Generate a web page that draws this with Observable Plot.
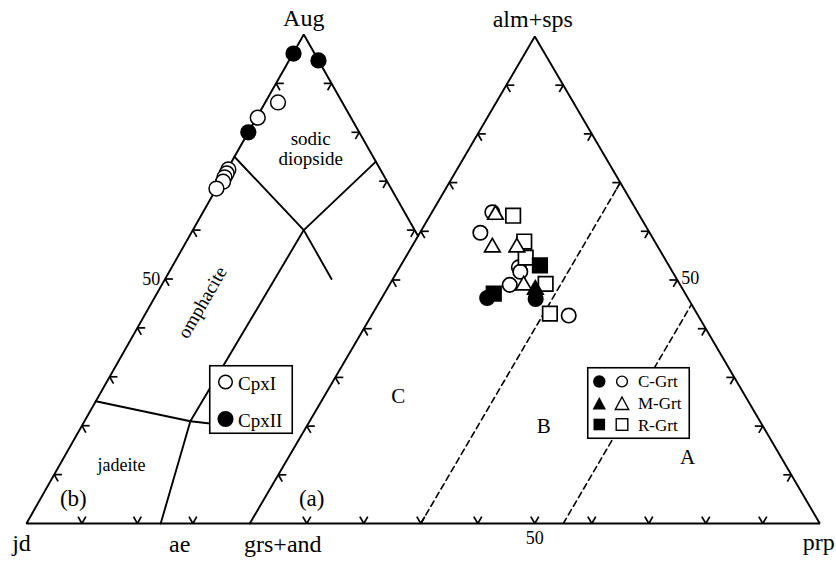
<!DOCTYPE html>
<html><head><meta charset="utf-8">
<script src="https://cdn.jsdelivr.net/npm/d3@7"></script>
<script src="https://cdn.jsdelivr.net/npm/@observablehq/plot@0.6"></script>
<style>
body{margin:0;background:#fff;}
#wrap{position:relative;width:836px;height:562px;font-family:"Liberation Serif",serif;}
#wrap svg.leg{position:absolute;overflow:visible;}
</style></head><body><div id="wrap"></div>
<script>
// ---------------- data ----------------
// clinopyroxene compositions (mol%): Aug, jd, ae
const cpxGroup = ["CpxII","CpxII","CpxII","CpxI","CpxI","CpxI","CpxI","CpxI","CpxI","CpxI"];
const cpxAug   = [96.1, 94.7, 80.0, 86.1, 83.0, 72.4, 71.6, 70.8, 69.9, 68.5];
const cpxJd    = [ 3.8,  0.0, 20.0, 11.6, 16.8, 27.4, 28.1, 28.9, 29.6, 31.5];
const cpxAe    = [ 0.1,  5.3,  0.0,  2.3,  0.2,  0.2,  0.3,  0.3,  0.5,  0.0];

// garnet compositions (mol%): alm+sps, prp, grs+and
const grtGroup  = ["C-Grt","M-Grt","R-Grt","C-Grt","M-Grt","M-Grt","R-Grt","R-Grt","R-Grt","C-Grt",
                   "C-Grt","R-Grt","C-Grt","M-Grt","M-Grt","C-Grt","R-Grt","C-Grt","R-Grt","C-Grt"];
const grtFilled = [0,0,0,0,0,0,0,0,1,0, 0,0,0,0,1,1,1,1,0,0];
const grtAlmSps = [63.9,63.4,63.2,59.7,56.7,56.7,57.9,54.6,53.0,52.6,51.7,49.2,49.0,48.9,48.0,46.1,47.2,46.3,43.1,42.7];
const grtPrp    = [10.6,11.4,14.6,10.6,14.2,18.5,19.2,21.1,24.4,20.9,21.6,27.3,21.1,23.6,26.1,27.1,19.2,18.5,31.1,34.6];
const grtGrsAnd = [25.5,25.2,22.2,29.7,29.1,24.8,22.9,24.3,22.6,26.5,26.7,23.5,29.9,27.5,25.9,26.8,33.6,35.2,25.8,22.7];

// cpx field boundaries (Aug, jd, ae)
const cpxSodicDiopside = [[75,25,0],[60,20,20],[74,0,26]];
const cpxInnerBranch   = [[60,20,20],[50,20,30]];
const cpxOmphAeLine    = [[60,20,20],[20.9,60,19.1],[0,75.8,24.2]];
const cpxJadeiteLine   = [[25,75,0],[20.9,60,19.1],[20.4,56.3,23.3]];
// garnet group boundaries (prp %), Coleman et al.
const grtPrpBounds = [30, 55];
const tickPct = [10,20,30,40,50,60,70,80,90];

// ---------------- geometry ----------------
const GRT = {alm:[50,85.44], prp:[100,0], grs:[0,0]};
const CPX = {aug:[9.47,85.79], jd:[-39.18,0], ae:[58.12,0]};
function bary(P, a, b, c) {
  const s = a + b + c;
  return [(a*P[0][0] + b*P[1][0] + c*P[2][0]) / s, (a*P[0][1] + b*P[1][1] + c*P[2][1]) / s];
}
const grtV = [GRT.alm, GRT.prp, GRT.grs];
const cpxV = [CPX.aug, CPX.jd, CPX.ae];
const grtXY = (c) => bary(grtV, c[0], c[1], c[2]);
const cpxXY = (c) => bary(cpxV, c[0], c[1], c[2]);

function intersect(p1, p2, p3, p4) {
  const d = (p2[0]-p1[0])*(p4[1]-p3[1]) - (p2[1]-p1[1])*(p4[0]-p3[0]);
  const t = ((p3[0]-p1[0])*(p4[1]-p3[1]) - (p3[1]-p1[1])*(p4[0]-p3[0])) / d;
  return [p1[0] + t*(p2[0]-p1[0]), p1[1] + t*(p2[1]-p1[1])];
}

const lines = [];
function addLine(id, pts) { pts.forEach((p, i) => lines.push({id, i, x: p[0], y: p[1]})); }
addLine("grt", [GRT.grs, GRT.prp, GRT.alm, GRT.grs]);
const cpxCut = intersect(CPX.aug, CPX.ae, GRT.grs, GRT.alm);
addLine("cpx", [cpxCut, CPX.aug, CPX.jd, GRT.grs]);
addLine("sd", cpxSodicDiopside.map(cpxXY));
addLine("br", cpxInnerBranch.map(cpxXY));
addLine("oa", cpxOmphAeLine.map(cpxXY));
addLine("jl", cpxJadeiteLine.map(cpxXY));

const dashed = [];
grtPrpBounds.forEach(p => {
  [grtXY([0, p, 100 - p]), grtXY([100 - p, p, 0])].forEach((q, i) => dashed.push({id: p, i, x: q[0], y: q[1]}));
});

// ticks: two inward arms parallel to the grid directions
const EPS = 1.4;
const ticks = [];
function edgeTicks(toXY, zi, vi, values) {
  const oi = 3 - zi - vi;
  values.forEach(v => {
    const c = [0,0,0]; c[vi] = v; c[oi] = 100 - v;
    const p = toXY(c);
    const a1 = c.slice(); a1[zi] = EPS; a1[vi] -= EPS;
    const a2 = c.slice(); a2[zi] = EPS; a2[oi] -= EPS;
    [a1, a2].forEach(a => { const q = toXY(a); ticks.push({x1: p[0], y1: p[1], x2: q[0], y2: q[1]}); });
  });
}
edgeTicks(grtXY, 0, 1, tickPct);            // bottom edge (prp)
edgeTicks(grtXY, 1, 0, tickPct);            // left edge (alm+sps)
edgeTicks(grtXY, 2, 0, tickPct);            // right edge (alm+sps)
edgeTicks(cpxXY, 2, 0, tickPct);            // cpx left edge (Aug)
edgeTicks(cpxXY, 0, 2, [10,20,30]);         // cpx bottom edge (ae)
edgeTicks(cpxXY, 1, 0, [60,70,80,90]);      // cpx right edge (Aug)

const cpxPts = cpxGroup.map((g, i) => { const p = cpxXY([cpxAug[i], cpxJd[i], cpxAe[i]]); return {g, x: p[0], y: p[1]}; });
const grtPts = grtGroup.map((g, i) => { const p = grtXY([grtAlmSps[i], grtPrp[i], grtGrsAnd[i]]); return {g, f: grtFilled[i], x: p[0], y: p[1]}; });

function lbl(p, text) { return [{x: p[0], y: p[1], text}]; }
const serif = "Liberation Serif";
const T = (p, text, opts) => Plot.text(lbl(p, text), {x: "x", y: "y", text: "text", fontFamily: serif, fill: "black", ...opts});

const chart = Plot.plot({
  width: 836, height: 562,
  marginTop: 0, marginRight: 0, marginBottom: 0, marginLeft: 0,
  x: {domain: [-249.3/5.7, 586.7/5.7], axis: null},
  y: {domain: [-39/5.7, 523/5.7], axis: null},
  style: {background: "white", fontFamily: serif, overflow: "visible"},
  marks: [
    Plot.line(dashed, {x: "x", y: "y", z: "id", stroke: "black", strokeWidth: 1.6, strokeDasharray: "6,4"}),
    Plot.line(lines, {x: "x", y: "y", z: "id", stroke: "black", strokeWidth: 1.9, strokeLinejoin: "miter"}),
    Plot.link(ticks, {x1: "x1", y1: "y1", x2: "x2", y2: "y2", stroke: "black", strokeWidth: 1.7}),
    Plot.dot(cpxPts, {x: "x", y: "y", r: 7.4, symbol: "circle", stroke: "black", strokeWidth: 1.5,
                      fill: d => d.g === "CpxII" ? "black" : "white"}),
    Plot.dot(grtPts.filter(d => d.g === "C-Grt"), {x: "x", y: "y", r: 7.2, symbol: "circle", stroke: "black", strokeWidth: 1.7,
                      fill: d => d.f ? "black" : "white"}),
    Plot.dot(grtPts.filter(d => d.g === "R-Grt"), {x: "x", y: "y", r: 8.2, symbol: "square", stroke: "black", strokeWidth: 1.7,
                      fill: d => d.f ? "black" : "white"}),
    Plot.dot(grtPts.filter(d => d.g === "M-Grt"), {x: "x", y: "y", r: 5.8, symbol: "triangle", stroke: "black", strokeWidth: 1.7,
                      fill: d => d.f ? "black" : "white"}),
    // vertex labels
    T(CPX.aug, "Aug", {fontSize: 24, dy: -16}),
    T(GRT.alm, "alm+sps", {fontSize: 24, dx: -2, dy: -17}),
    T(CPX.jd, "jd", {fontSize: 24, dx: -5, dy: 20}),
    T(cpxXY([0,75.8,24.2]), "ae", {fontSize: 24, dx: 19, dy: 21}),
    T(GRT.grs, "grs+and", {fontSize: 24, dx: 33, dy: 21}),
    T(GRT.prp, "prp", {fontSize: 24, dx: -1, dy: 19}),
    // scale labels
    T(grtXY([0,50,50]), "50", {fontSize: 18, dy: 15}),
    T(cpxXY([50,50,0]), "50", {fontSize: 18, dx: -14, dy: 0}),
    T(grtXY([50,50,0]), "50", {fontSize: 18, dx: 13, dy: -2}),
    // field labels
    T(grtXY([26.1,13.0,60.9]), "C", {fontSize: 21}),
    T(grtXY([19.9,41.6,38.5]), "B", {fontSize: 21}),
    T(grtXY([13.6,70.0,16.4]), "A", {fontSize: 21}),
    T(grtXY([5.1,8.3,86.6]), "(a)", {fontSize: 23}),
    T(cpxXY([5.1,89.0,5.9]), "(b)", {fontSize: 23}),
    T(cpxXY([11.9,76.9,11.2]), "jadeite", {fontSize: 18}),
    T(cpxXY([76.7,10.4,12.9]), "sodic\ndiopside", {fontSize: 19, lineHeight: 1.08}),
    T(cpxXY([45.2,45.7,9.1]), "omphacite", {fontSize: 19, rotate: -60})
  ]
});

const wrap = document.getElementById("wrap");
chart.style.position = "absolute";
chart.style.left = "0px";
chart.style.top = "0px";
wrap.appendChild(chart);

const NS = "http://www.w3.org/2000/svg";
function el(tag, attrs, parent, text) {
  const e = document.createElementNS(NS, tag);
  for (const k in attrs) e.setAttribute(k, attrs[k]);
  if (text != null) e.textContent = text;
  parent.appendChild(e);
  return e;
}
// legend for clinopyroxene
const cpxLegend = ["CpxI", "CpxII"];
{
  const s = el("svg", {class: "leg", width: 84, height: 69, style: "left:209px;top:365px"}, wrap);
  el("rect", {x: 0.75, y: 0.75, width: 82.5, height: 67.5, fill: "white", stroke: "black", "stroke-width": 1.6}, s);
  cpxLegend.forEach((name, i) => {
    const cy = i === 0 ? 17 : 54;
    el("circle", {cx: 16.5, cy, r: i === 0 ? 6.8 : 7.3, fill: i === 0 ? "white" : "black", stroke: "black", "stroke-width": 1.5}, s);
    el("text", {x: 29, y: cy + 7.5, "font-family": serif, "font-size": 19}, s, name);
  });
}
// legend for garnet
const grtLegend = ["C-Grt", "M-Grt", "R-Grt"];
{
  const s = el("svg", {class: "leg", width: 103, height: 72, style: "left:587px;top:367px"}, wrap);
  el("rect", {x: 0.75, y: 0.75, width: 101.5, height: 70.5, fill: "white", stroke: "black", "stroke-width": 1.6}, s);
  grtLegend.forEach((name, i) => {
    const cy = [14.5, 36.5, 58][i];
    [12.3, 35].forEach((cx, j) => {
      const fill = j === 0 ? "black" : "white";
      const sw = j === 0 ? 0 : 1.4;
      if (i === 0) el("circle", {cx, cy, r: j === 0 ? 6.2 : 5.4, fill, stroke: "black", "stroke-width": sw}, s);
      if (i === 1) el("path", {d: `M${cx},${cy-6.5}L${cx+6.7},${cy+6}L${cx-6.7},${cy+6}Z`, fill, stroke: "black", "stroke-width": sw}, s);
      if (i === 2) el("rect", {x: cx - 5.8, y: cy - 6.3, width: 11.6, height: 11.6, fill, stroke: "black", "stroke-width": sw}, s);
    });
    el("text", {x: 51, y: cy + 5.5, "font-family": serif, "font-size": 17}, s, name);
  });
}
</script></body></html>
